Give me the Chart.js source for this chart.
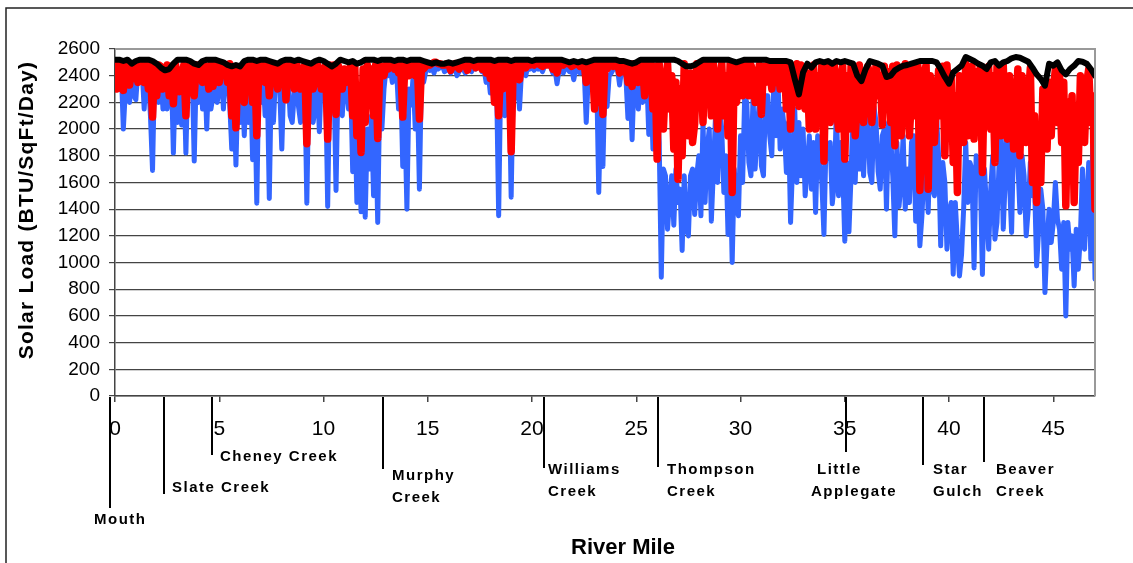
<!DOCTYPE html>
<html><head><meta charset="utf-8">
<script src="https://cdn.jsdelivr.net/npm/chart.js@4.4.1/dist/chart.umd.min.js"></script>
<style>html,body{margin:0;padding:0;background:#fff;overflow:hidden}#wrap{position:relative;width:1133px;height:563px}</style>
</head><body><div id="wrap"><canvas id="c" width="1133" height="563"></canvas></div>
<script>
const MILES=[0,0.1,0.2,0.3,0.4,0.5,0.6,0.7,0.8,0.9,1,1.1,1.2,1.3,1.4,1.5,1.6,1.7,1.8,1.9,2,2.1,2.2,2.3,2.4,2.5,2.6,2.7,2.8,2.9,3,3.1,3.2,3.3,3.4,3.5,3.6,3.7,3.8,3.9,4,4.1,4.2,4.3,4.4,4.5,4.6,4.7,4.8,4.9,5,5.1,5.2,5.3,5.4,5.5,5.6,5.7,5.8,5.9,6,6.1,6.2,6.3,6.4,6.5,6.6,6.7,6.8,6.9,7,7.1,7.2,7.3,7.4,7.5,7.6,7.7,7.8,7.9,8,8.1,8.2,8.3,8.4,8.5,8.6,8.7,8.8,8.9,9,9.1,9.2,9.3,9.4,9.5,9.6,9.7,9.8,9.9,10,10.1,10.2,10.3,10.4,10.5,10.6,10.7,10.8,10.9,11,11.1,11.2,11.3,11.4,11.5,11.6,11.7,11.8,11.9,12,12.1,12.2,12.3,12.4,12.5,12.6,12.7,12.8,12.9,13,13.1,13.2,13.3,13.4,13.5,13.6,13.7,13.8,13.9,14,14.1,14.2,14.3,14.4,14.5,14.6,14.7,14.8,14.9,15,15.1,15.2,15.3,15.4,15.5,15.6,15.7,15.8,15.9,16,16.1,16.2,16.3,16.4,16.5,16.6,16.7,16.8,16.9,17,17.1,17.2,17.3,17.4,17.5,17.6,17.7,17.8,17.9,18,18.1,18.2,18.3,18.4,18.5,18.6,18.7,18.8,18.9,19,19.1,19.2,19.3,19.4,19.5,19.6,19.7,19.8,19.9,20,20.1,20.2,20.3,20.4,20.5,20.6,20.7,20.8,20.9,21,21.1,21.2,21.3,21.4,21.5,21.6,21.7,21.8,21.9,22,22.1,22.2,22.3,22.4,22.5,22.6,22.7,22.8,22.9,23,23.1,23.2,23.3,23.4,23.5,23.6,23.7,23.8,23.9,24,24.1,24.2,24.3,24.4,24.5,24.6,24.7,24.8,24.9,25,25.1,25.2,25.3,25.4,25.5,25.6,25.7,25.8,25.9,26,26.1,26.2,26.3,26.4,26.5,26.6,26.7,26.8,26.9,27,27.1,27.2,27.3,27.4,27.5,27.6,27.7,27.8,27.9,28,28.1,28.2,28.3,28.4,28.5,28.6,28.7,28.8,28.9,29,29.1,29.2,29.3,29.4,29.5,29.6,29.7,29.8,29.9,30,30.1,30.2,30.3,30.4,30.5,30.6,30.7,30.8,30.9,31,31.1,31.2,31.3,31.4,31.5,31.6,31.7,31.8,31.9,32,32.1,32.2,32.3,32.4,32.5,32.6,32.7,32.8,32.9,33,33.1,33.2,33.3,33.4,33.5,33.6,33.7,33.8,33.9,34,34.1,34.2,34.3,34.4,34.5,34.6,34.7,34.8,34.9,35,35.1,35.2,35.3,35.4,35.5,35.6,35.7,35.8,35.9,36,36.1,36.2,36.3,36.4,36.5,36.6,36.7,36.8,36.9,37,37.1,37.2,37.3,37.4,37.5,37.6,37.7,37.8,37.9,38,38.1,38.2,38.3,38.4,38.5,38.6,38.7,38.8,38.9,39,39.1,39.2,39.3,39.4,39.5,39.6,39.7,39.8,39.9,40,40.1,40.2,40.3,40.4,40.5,40.6,40.7,40.8,40.9,41,41.1,41.2,41.3,41.4,41.5,41.6,41.7,41.8,41.9,42,42.1,42.2,42.3,42.4,42.5,42.6,42.7,42.8,42.9,43,43.1,43.2,43.3,43.4,43.5,43.6,43.7,43.8,43.9,44,44.1,44.2,44.3,44.4,44.5,44.6,44.7,44.8,44.9,45,45.1,45.2,45.3,45.4,45.5,45.6,45.7,45.8,45.9,46,46.1,46.2,46.3,46.4,46.5,46.6,46.7,46.8,46.9,47];

const BLUE=[
2400,2450,2300,2450,2000,2300,2420,2200,2450,2250,2220,2450,2450,2450,2150,2450,2380,2100,1690,2450,
2350,2200,2450,2150,2400,2150,2300,2450,1820,2400,2050,2450,2030,2450,1820,2450,2300,2450,1760,2450,
2200,2400,2150,2450,2000,2450,2150,2250,2450,2200,2300,2450,2150,2450,2400,2200,1850,2300,1730,2350,
2050,2350,1950,2350,2050,2400,1770,2300,1445,2400,2200,2400,2100,2400,1480,2400,2050,2400,2350,2300,
1850,2400,2250,2400,2100,2050,2270,2450,2170,2050,2300,2400,1445,2400,2300,2050,2150,2400,1980,2400,
2350,2400,1420,2400,2150,2400,1540,2400,2200,2100,2400,2300,2150,2350,1680,2200,1450,2000,1380,1900,
1340,2000,1700,2100,1500,2050,1300,2300,2000,2300,2450,2400,2470,2350,2420,2450,2150,2400,1720,2100,
1400,2300,2180,2400,2000,2300,1550,2450,2350,2430,2480,2440,2470,2420,2480,2450,2460,2480,2430,2440,
2470,2420,2450,2480,2400,2430,2480,2450,2420,2480,2460,2430,2480,2450,2470,2480,2430,2450,2350,2420,
2270,2400,2200,2350,1350,2400,2220,2100,2250,2400,1490,2400,2230,2400,2150,2450,2430,2400,2480,2450,
2470,2440,2480,2450,2460,2430,2470,2480,2480,2460,2420,2450,2340,2450,2460,2420,2470,2450,2430,2460,
2370,2450,2450,2420,2480,2450,2050,2400,2350,2400,2150,2400,1525,2200,1720,2400,2170,2400,2420,2450,
2480,2450,2330,2450,2420,2400,2080,2350,1920,2400,2300,2150,2400,2200,2300,2400,1960,2350,1850,2400,
2180,1900,890,1700,1650,1250,1480,1650,1280,1700,1450,1550,1090,1650,1250,1200,1650,1700,1360,1650,
1800,1350,2050,1450,1850,2000,1310,1700,2100,1600,2150,2000,1525,1800,1210,1750,1000,1700,1425,1350,
1950,1600,2250,2200,1750,1650,2250,1700,2000,2200,1725,1650,2250,2250,1950,1800,2400,1950,2350,1850,
2150,2000,1675,2050,1300,1750,2150,1600,2050,1650,2000,1500,1710,1950,1550,1900,1375,1950,1780,1600,
1210,1900,1780,1900,1440,1600,2170,1500,1900,1700,1160,1750,1230,1650,2170,1600,2100,1700,2170,1650,
2020,2150,1675,1600,2170,2050,1680,1550,1950,2000,1400,2050,1950,1650,1200,1900,1420,1600,1950,1400,
1700,1450,1900,1950,1310,1650,1125,1350,1700,1750,1375,1950,1550,1500,2100,1800,1125,1750,1600,1100,
1380,1450,912,1450,1150,900,1060,1400,1900,1450,1750,1700,960,1800,1650,1650,910,1700,1400,1100,
1550,1800,1175,1300,1750,1950,1250,1650,2150,1600,1225,1950,1900,1750,1375,1800,1650,1200,1400,1750,
1500,1600,975,1250,1550,1400,775,1150,1400,1150,1300,1600,1325,1250,950,1300,600,1300,1100,1200,
825,1250,950,1200,1700,1100,1450,1750,1025,2000,875];

const RED=[
2480,2300,2400,2490,2290,2480,2480,2330,2470,2380,2480,2350,2490,2420,2350,2480,2300,2470,2090,2480,
2250,2480,2470,2300,2400,2480,2250,2470,2190,2490,2350,2280,2400,2480,2100,2470,2350,2480,2250,2480,
2400,2480,2350,2480,2450,2300,2480,2320,2420,2490,2350,2490,2450,2480,2350,2490,2100,2450,2010,2450,
2250,2470,2200,2480,2300,2480,2200,2480,1950,2480,2400,2480,2350,2480,2250,2480,2400,2480,2300,2480,
2350,2490,2220,2480,2350,2480,2300,2490,2450,2300,2400,2480,1890,2480,2450,2300,2380,2490,2400,2300,
2450,2480,1925,2480,2350,2480,2110,2480,2420,2300,2450,2350,2380,2480,2100,2470,1950,2300,1825,2450,
2050,2480,2200,2450,2100,2480,1930,2480,2450,2400,2480,2450,2490,2480,2450,2470,2420,2480,2090,2480,
2450,2400,2480,2490,2400,2480,2075,2480,2450,2470,2490,2480,2490,2500,2500,2490,2490,2480,2480,2490,
2490,2440,2480,2490,2470,2450,2490,2480,2480,2440,2490,2480,2490,2460,2480,2490,2450,2490,2420,2480,
2380,2480,2200,2480,2100,2480,2300,2480,2400,2480,1830,2490,2420,2490,2370,2490,2480,2460,2490,2480,
2490,2480,2500,2490,2480,2470,2490,2480,2490,2490,2450,2490,2420,2490,2490,2480,2500,2490,2490,2470,
2480,2490,2490,2470,2480,2490,2350,2490,2440,2490,2150,2480,2200,2490,2110,2490,2450,2480,2490,2470,
2480,2490,2420,2490,2430,2490,2350,2490,2320,2490,2450,2350,2400,2490,2250,2480,2300,2490,2150,2470,
1775,2490,2200,2000,2350,2490,2150,2400,1850,2350,1625,2300,1800,2490,2200,1950,2420,1900,2040,2490,
2350,2490,2050,2490,2350,2490,2100,2490,2300,2000,2350,2490,2100,2400,1950,2490,1525,2490,2200,2300,
2490,2250,2370,2480,2250,2480,2420,2200,2300,2480,2110,2470,2350,2480,2450,2300,2480,2350,2470,2300,
2400,2490,2150,2480,2000,2470,2250,2490,2170,2480,2350,2150,2420,2000,2200,2480,2000,2400,2150,2480,
1760,2490,2420,2050,2300,2480,2150,2000,2400,2470,1775,2400,2000,2470,2250,1950,2200,2480,2300,2050,
2200,2470,2420,2050,2300,2480,2250,2400,2030,2470,2250,2430,2050,2470,1875,2480,2300,1950,2200,2490,
2400,1950,2250,2470,2100,2480,1540,2000,2420,2480,1550,2400,2300,1900,2200,2440,2100,2470,1800,2480,
2200,2400,1750,2250,1525,2400,2100,1900,2490,1950,2350,2470,1925,2430,2250,2470,1675,2440,2200,2470,
2000,2400,1750,2470,2300,1950,2480,2000,1925,2400,2225,1850,2150,2450,1800,2400,2150,1900,2250,2460,
1600,2100,1450,2000,1600,2300,2100,1850,2350,1950,2300,2450,2050,2400,1900,2350,1425,2200,1900,2250,
1450,2100,1750,2400,2200,1900,2350,2450,2050,2250,1400];

// black series sampled every 0.2 mile (MILES[0], MILES[2], MILES[4], ...)
const BLACK=[
2520,2520,2510,2520,2490,2510,2520,2520,2520,2510,
2490,2460,2440,2450,2490,2520,2520,2520,2510,2490,
2480,2510,2520,2520,2520,2510,2500,2480,2470,2480,
2470,2510,2520,2520,2510,2520,2520,2510,2500,2490,
2510,2520,2520,2510,2520,2510,2500,2490,2510,2520,
2510,2490,2470,2490,2520,2510,2500,2510,2490,2500,
2520,2520,2520,2510,2520,2520,2520,2510,2520,2520,
2510,2520,2520,2520,2510,2500,2490,2500,2490,2490,
2500,2490,2500,2510,2520,2520,2510,2520,2520,2520,
2520,2510,2520,2520,2520,2510,2520,2520,2520,2520,
2510,2520,2520,2520,2520,2520,2520,2520,2510,2500,
2510,2500,2510,2500,2510,2520,2520,2520,2520,2520,
2520,2510,2510,2500,2490,2500,2520,2520,2520,2520,
2520,2520,2520,2520,2520,2510,2490,2470,2470,2480,
2500,2520,2520,2520,2520,2520,2520,2520,2510,2500,
2510,2520,2520,2520,2520,2520,2520,2510,2510,2510,
2510,2510,2500,2375,2260,2425,2490,2460,2500,2510,
2500,2510,2490,2510,2500,2510,2500,2490,2400,2360,
2450,2510,2500,2490,2475,2390,2400,2440,2460,2475,
2480,2490,2500,2510,2510,2510,2510,2500,2450,2390,
2340,2425,2450,2475,2540,2525,2510,2490,2475,2450,
2500,2510,2475,2500,2510,2530,2540,2535,2520,2505,
2460,2410,2375,2325,2490,2475,2500,2440,2410,2450,
2475,2510,2505,2490,2450,2400];

const X_TICKS=[0,5,10,15,20,25,30,35,40,45];
const Y_TICKS=[0,200,400,600,800,1000,1200,1400,1600,1800,2000,2200,2400,2600];
const TRIB_NAMES=[["Mouth"],["Slate Creek"],["Cheney Creek"],["Murphy","Creek"],["Williams","Creek"],["Thompson","Creek"],["Little","Applegate"],["Star","Gulch"],["Beaver","Creek"]];
const TRIB_MILES=[-0.24,2.35,4.65,12.86,20.59,26.06,35.08,38.77,41.7];
const X_TITLE='River Mile';
const Y_TITLE='Solar Load (BTU/SqFt/Day)';

const FONT='Arial, "Liberation Sans", sans-serif';
// drawing layout for the tributary markers (pixel geometry, not data)
const TRIB_LAYOUT=[
 {end:508,dx:[-16],y:520},
 {end:494,dx:[8],y:488},
 {end:455,dx:[8],y:457},
 {end:469,dx:[9,9],y:476},
 {end:468,dx:[4,4],y:470},
 {end:467,dx:[9,9],y:470},
 {end:452,dx:[-29,-35],y:470},
 {end:465,dx:[10,10],y:470},
 {end:462,dx:[12,12],y:470}
];

const bluePts=BLUE.map((v,i)=>({x:MILES[i],y:v}));
const redPts=RED.map((v,i)=>({x:MILES[i],y:v}));
const blackPts=BLACK.map((v,i)=>({x:MILES[i*2],y:v}));

const deco={
 id:'deco',
 beforeDraw(chart){
  const c=chart.ctx;c.save();
  c.fillStyle='#fff';c.fillRect(0,0,chart.width,chart.height);
  c.strokeStyle='#222';c.lineWidth=1.5;
  c.beginPath();c.moveTo(6,chart.height);c.lineTo(6,8);c.lineTo(chart.width,8);c.stroke();
  c.restore();
 },
 afterDraw(chart){
  const c=chart.ctx,a=chart.chartArea,xs=chart.scales.x;
  c.save();
  c.strokeStyle='#999';c.lineWidth=2;
  c.beginPath();c.moveTo(a.left,a.top);c.lineTo(a.right,a.top);c.lineTo(a.right,a.bottom);c.stroke();
  c.fillStyle='#000';c.strokeStyle='#000';c.lineWidth=2;
  c.font='bold 15px '+FONT;
  try{c.letterSpacing='1.5px';}catch(e){}
  c.textBaseline='middle';c.textAlign='left';
  TRIB_MILES.forEach((m,i)=>{
   const px=Math.round(xs.getPixelForValue(m));const L=TRIB_LAYOUT[i];
   c.beginPath();c.moveTo(px,a.bottom+1);c.lineTo(px,L.end);c.stroke();
   TRIB_NAMES[i].forEach((t,j)=>{c.fillText(t,px+L.dx[j],L.y+j*22);});
  });
  try{c.letterSpacing='0px';}catch(e){}
  c.font='bold 22px '+FONT;c.textAlign='center';c.textBaseline='middle';
  c.fillText(X_TITLE,623,548);
  c.translate(27,210);c.rotate(-Math.PI/2);
  c.font='bold 21px '+FONT;
  try{c.letterSpacing='1.2px';}catch(e){}
  c.fillText(Y_TITLE,0,0);
  c.restore();
 }
};

new Chart(document.getElementById('c').getContext('2d'),{
 type:'line',
 data:{datasets:[
  {label:'Black',data:blackPts,borderColor:'#000000',borderWidth:6},
  {label:'Red',data:redPts,borderColor:'#FF0000',borderWidth:7.5},
  {label:'Blue',data:bluePts,borderColor:'#3366FF',borderWidth:5}
 ]},
 options:{
  responsive:false,animation:false,
  elements:{point:{radius:0},line:{tension:0,borderJoinStyle:'round',borderCapStyle:'round'}},
  layout:{padding:{left:0,top:49,right:38,bottom:0}},
  plugins:{legend:{display:false},tooltip:{enabled:false}},
  scales:{
   x:{type:'linear',min:0,max:47,
    afterBuildTicks(s){s.ticks=X_TICKS.map(v=>({value:v}));},
    afterFit(s){s.height=167;},
    grid:{drawOnChartArea:false,tickLength:6,tickColor:'#444',lineWidth:1.5},
    border:{color:'#444',width:1.5},
    ticks:{font:{family:FONT,size:21},color:'#000',padding:15,maxRotation:0,autoSkip:false,callback:(v)=>String(v)}},
   y:{type:'linear',min:0,max:2600,
    afterBuildTicks(s){s.ticks=Y_TICKS.map(v=>({value:v}));},
    afterFit(s){s.width=115;},
    grid:{color:(c)=>(c.tick&&c.tick.value===2600)?'#999':'#444',lineWidth:1.2,tickLength:6,tickColor:'#444'},
    border:{color:'#444',width:1.5},
    ticks:{font:{family:FONT,size:19},color:'#000',padding:9,callback:(v)=>String(v)}}
  }
 },
 plugins:[deco]
});
</script></body></html>
